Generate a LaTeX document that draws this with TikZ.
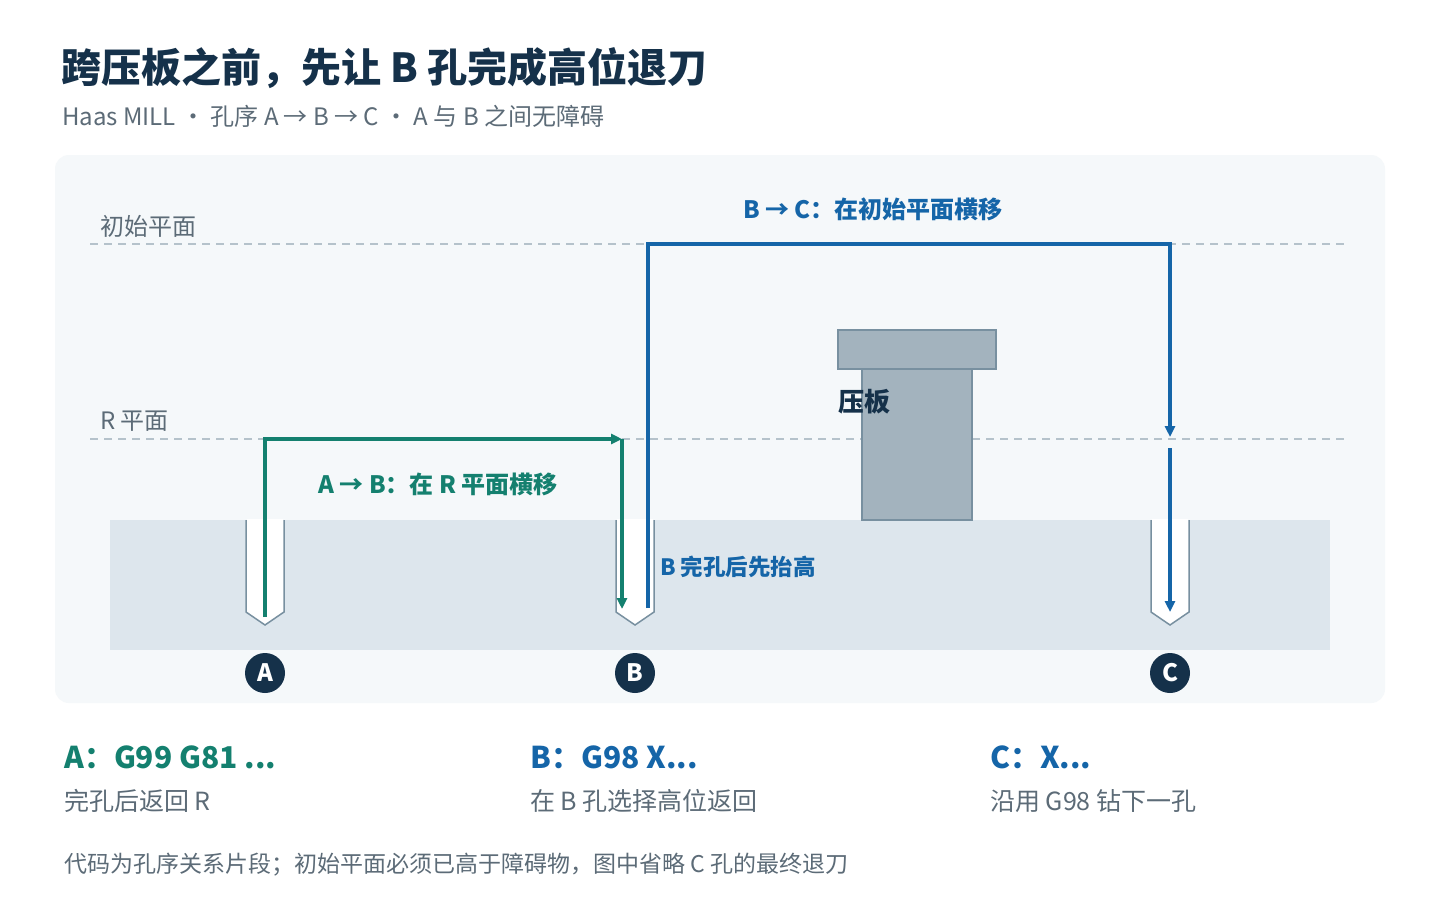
\documentclass[tikz,border=0pt]{standalone}
\usepackage{fontspec}
\setmainfont{Noto Sans CJK SC}
\usetikzlibrary{arrows.meta}
\definecolor{navy}{HTML}{15314A}
\definecolor{sub}{HTML}{5C6B77}
\definecolor{grn}{HTML}{14806F}
\definecolor{blu}{HTML}{1565A8}
\definecolor{panel}{HTML}{F5F8FA}
\definecolor{work}{HTML}{DDE6ED}
\definecolor{clamp}{HTML}{A3B3BE}
\definecolor{clampd}{HTML}{7890A0}
\definecolor{dash}{HTML}{B5C2CB}
\newcommand{\fs}[1]{\fontsize{#1}{#1}\selectfont}
\tikzset{
  txt/.style={inner sep=0pt,anchor=west},
  hole/.style={draw=clampd,fill=white,line width=1.5pt},
  gpath/.style={draw=grn,line width=4.8pt},
  bpath/.style={draw=blu,line width=4.8pt},
  tip/.style={-{Triangle[length=11pt,width=10pt]}},
  holemark/.style={circle,fill=navy,minimum size=40pt,inner sep=0pt,text=white,font=\fs{24}\bfseries},
  plane/.style={draw=dash,line width=1.3pt,dash pattern=on 8pt off 6pt},
}
\begin{document}
\begin{tikzpicture}[x=1pt,y=-1pt]
\useasboundingbox (0,0) rectangle (1440,900);
\fill[white] (0,0) rectangle (1440,900);
\node[txt,text=navy,font=\fs{40}\bfseries] (title) at (61,68) {跨压板之前，先让 B 孔完成高位退刀};
\node[txt,text=sub,font=\fs{24}] (subt) at (62,116) {Haas MILL · 孔序 A → B → C · A 与 B 之间无障碍};
\fill[panel,rounded corners=14pt] (55,155) rectangle (1385,703);
\draw[plane] (90,244) -- (1345,244);
\draw[plane] (90,439) -- (1345,439);
\node[txt,text=sub,font=\fs{24}] (lp1) at (100,226) {初始平面};
\node[txt,text=sub,font=\fs{24}] (lp2) at (100,421) {R 平面};
\fill[work] (110,520) rectangle (1330,650);
\foreach \x in {265,635,1170}{
  \path[hole] (\x-19,520) -- (\x-19,612) -- (\x,625) -- (\x+19,612) -- (\x+19,520);
  \fill[white] (\x-18.2,519) rectangle (\x+18.2,530);
}
\draw[draw=clampd,fill=clamp,line width=1.3pt] (862,369) rectangle (972,520);
\draw[draw=clampd,fill=clamp,line width=1.3pt] (838,330) rectangle (996,369);
\node[txt,text=navy,font=\fs{26}\bfseries] (clab) at (838,402) {压板};
\coordinate (a0) at (265,617);
\coordinate (a1) at (265,439);
\coordinate (a2) at (622,439);
\coordinate (a3) at (622,609);
\draw[gpath,tip] (a0) -- (a1) -- (a2);
\draw[gpath,tip] (a2) -- (a3);
\coordinate (b0) at (648,608);
\coordinate (b1) at (648,244);
\coordinate (b2) at (1170,244);
\coordinate (b3) at (1170,437);
\coordinate (b4) at (1170,448);
\coordinate (b5) at (1170,612);
\draw[bpath,tip] (b0) -- (b1) -- (b2) -- (b3);
\draw[bpath,tip] (b4) -- (b5);
\node[text=blu,font=\fs{24}\bfseries,inner sep=0pt] (lbc) at (873,209) {B → C：在初始平面横移};
\node[text=grn,font=\fs{24}\bfseries,inner sep=0pt] (lab) at (438,484) {A → B：在 R 平面横移};
\node[txt,text=blu,font=\fs{22.5}\bfseries] (lup) at (660,567) {B 完孔后先抬高};
\node[holemark] (A) at (265,673) {A};
\node[holemark] (B) at (635,673) {B};
\node[holemark] (C) at (1170,673) {C};
\node[txt,text=grn,font=\fs{30}\bfseries] (ca) at (64,757) {A：G99 G81 ...};
\node[txt,text=sub,font=\fs{25}] (da) at (64,801) {完孔后返回 R};
\node[txt,text=blu,font=\fs{30}\bfseries] (cb) at (530,757) {B：G98 X...};
\node[txt,text=sub,font=\fs{25}] (db) at (530,801) {在 B 孔选择高位返回};
\node[txt,text=blu,font=\fs{30}\bfseries] (cc) at (990,757) {C：X...};
\node[txt,text=sub,font=\fs{25}] (dc) at (990,801) {沿用 G98 钻下一孔};
\node[txt,text=sub,font=\fs{23}] (foot) at (64,865) {代码为孔序关系片段；初始平面必须已高于障碍物，图中省略 C 孔的最终退刀};
\end{tikzpicture}
\end{document}
